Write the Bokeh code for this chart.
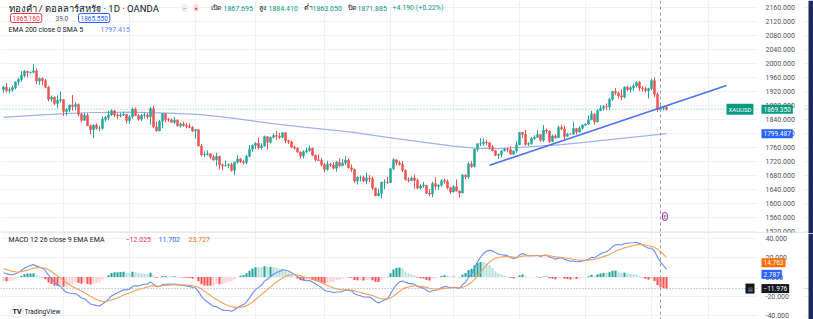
import numpy as np
from bokeh.plotting import figure
from bokeh.layouts import column
from bokeh.models import (Range1d, FixedTicker, NumeralTickFormatter, Label, Span,
                          ColumnDataSource, BoxAnnotation)
from bokeh.embed import file_html
from bokeh.resources import INLINE

# ---------------- data (daily XAUUSD, OANDA) ----------------
first_open = 1925.0
closes = [
    # Apr
    1932, 1923, 1925, 1931, 1947, 1954, 1966, 1978, 1974, 1975, 1979, 1950, 1957, 1951, 1932, 1898, 1904, 1886, 1895, 1897,
    # May
    1863, 1868, 1881, 1877, 1883, 1855, 1838, 1852, 1822, 1811, 1824, 1815, 1815, 1841, 1846, 1853, 1865, 1853, 1850, 1853, 1855, 1837,
    # Jun
    1848, 1870, 1851, 1841, 1852, 1853, 1848, 1871, 1819, 1808, 1835, 1857, 1840, 1839, 1832, 1838, 1822, 1827, 1823, 1820, 1817, 1807,
    # Jul
    1811, 1764, 1739, 1740, 1742, 1733, 1725, 1735, 1711, 1708, 1709, 1711, 1695, 1718, 1727, 1719, 1717, 1735, 1755, 1766,
    # Aug
    1772, 1760, 1765, 1791, 1775, 1789, 1794, 1792, 1789, 1802, 1779, 1776, 1761, 1758, 1747, 1736, 1748, 1751, 1758, 1738, 1725, 1723, 1711,
    # Sep
    1697, 1712, 1710, 1701, 1718, 1708, 1716, 1724, 1702, 1697, 1664, 1675, 1675, 1664, 1673, 1671, 1644, 1622, 1629, 1660, 1661, 1660,
    # Oct
    1699, 1725, 1716, 1712, 1695, 1668, 1666, 1673, 1666, 1644, 1650, 1652, 1629, 1627, 1657, 1649, 1652, 1665, 1663, 1645, 1633,
    # Nov
    1648, 1636, 1630, 1681, 1676, 1713, 1706, 1755, 1771, 1771, 1776, 1774, 1761, 1751, 1738, 1740, 1750, 1755, 1754, 1741, 1750, 1768,
    # Dec
    1803, 1797, 1769, 1771, 1786, 1789, 1797, 1781, 1810, 1807, 1777, 1793, 1788, 1817, 1813, 1792, 1798, 1798, 1814, 1804, 1815, 1824,
    # Jan
    1827, 1839, 1855, 1833, 1865, 1872, 1877, 1876, 1898, 1920, 1916, 1908, 1904, 1932, 1926, 1931, 1936, 1946, 1930, 1928, 1923, 1928,
    # Feb
    1951, 1912, 1867.695, 1871.885, 1874, 1869.35,
]
highs = [
    1936, 1944, 1932, 1937, 1949, 1958, 1978, 1981, 1979, 1977, 1998, 1986, 1960, 1960, 1956, 1936, 1909, 1906, 1909, 1920,
    1898, 1873, 1883, 1910, 1890, 1886, 1859, 1859, 1858, 1826, 1826, 1829, 1822, 1849, 1850, 1865, 1869, 1867, 1858, 1859, 1862, 1856,
    1852, 1874, 1874, 1856, 1855, 1860, 1858, 1876, 1879, 1833, 1838, 1858, 1857, 1845, 1843, 1847, 1840, 1831, 1834, 1830, 1829, 1821,
    1813, 1812, 1770, 1749, 1752, 1743, 1739, 1745, 1736, 1714, 1723, 1715, 1717, 1719, 1739, 1730, 1724, 1739, 1767, 1768,
    1775, 1788, 1772, 1794, 1792, 1791, 1800, 1807, 1802, 1803, 1804, 1782, 1780, 1766, 1761, 1749, 1752, 1760, 1765, 1760, 1740, 1741, 1730,
    1716, 1722, 1716, 1718, 1722, 1729, 1727, 1735, 1729, 1712, 1700, 1678, 1680, 1680, 1688, 1681, 1677, 1645, 1642, 1663, 1669, 1676,
    1702, 1729, 1726, 1722, 1721, 1697, 1675, 1677, 1682, 1672, 1655, 1662, 1652, 1641, 1662, 1675, 1655, 1669, 1671, 1669, 1648,
    1652, 1669, 1637, 1684, 1683, 1719, 1722, 1756, 1771, 1786, 1786, 1782, 1774, 1767, 1753, 1743, 1753, 1759, 1760, 1764, 1752, 1778,
    1804, 1804, 1810, 1775, 1790, 1795, 1810, 1797, 1824, 1814, 1808, 1797, 1798, 1823, 1825, 1823, 1802, 1800, 1833, 1815, 1821, 1826,
    1829, 1851, 1865, 1858, 1870, 1881, 1881, 1886, 1902, 1922, 1930, 1920, 1926, 1935, 1937, 1935, 1942, 1949, 1950, 1936, 1934, 1931,
    1957, 1960, 1918, 1884.41, 1879, 1877,
]
lows = [
    1916, 1917, 1915, 1919, 1926, 1937, 1948, 1960, 1961, 1971, 1972, 1941, 1939, 1938, 1929, 1892, 1891, 1881, 1872, 1888,
    1850, 1851, 1861, 1865, 1866, 1850, 1832, 1836, 1821, 1798, 1787, 1811, 1807, 1810, 1834, 1838, 1850, 1846, 1842, 1846, 1850, 1829,
    1828, 1842, 1850, 1837, 1836, 1843, 1841, 1825, 1816, 1805, 1806, 1815, 1832, 1833, 1831, 1827, 1820, 1817, 1819, 1815, 1815, 1804,
    1785, 1764, 1735, 1733, 1737, 1727, 1722, 1707, 1697, 1695, 1706, 1701, 1691, 1681, 1714, 1716, 1711, 1712, 1732, 1748,
    1755, 1754, 1754, 1762, 1754, 1771, 1786, 1782, 1784, 1787, 1772, 1770, 1758, 1754, 1745, 1728, 1729, 1744, 1748, 1735, 1720, 1722, 1707,
    1689, 1694, 1705, 1697, 1691, 1705, 1707, 1710, 1700, 1690, 1659, 1654, 1663, 1662, 1655, 1661, 1638, 1621, 1621, 1615, 1641, 1656,
    1659, 1696, 1708, 1708, 1690, 1666, 1660, 1664, 1642, 1641, 1640, 1645, 1627, 1621, 1618, 1639, 1639, 1648, 1657, 1640, 1627,
    1632, 1634, 1617, 1629, 1670, 1670, 1702, 1703, 1748, 1764, 1765, 1767, 1754, 1749, 1735, 1727, 1732, 1749, 1746, 1740, 1739, 1745,
    1767, 1787, 1765, 1765, 1768, 1782, 1788, 1776, 1776, 1800, 1773, 1776, 1785, 1787, 1810, 1784, 1791, 1796, 1797, 1797, 1803, 1811,
    1821, 1824, 1838, 1825, 1832, 1865, 1866, 1867, 1866, 1894, 1910, 1900, 1896, 1900, 1921, 1917, 1921, 1932, 1922, 1920, 1917, 1900,
    1924, 1904, 1861, 1863.05, 1866, 1865,
]

ema_x = [0, 10, 20, 30, 42, 55, 66, 77, 89, 100, 116, 128, 139, 150, 157, 165, 175, 186, 196, 206, 214, 221]
ema_vals = [1846, 1852, 1857, 1860, 1861, 1858, 1854, 1843, 1829, 1818, 1804, 1789, 1776, 1764, 1758, 1757,
            1762, 1768, 1777, 1786, 1793, 1799.487]

# hand-drawn trend line (bar index, price)
trend_x = [162, 241]
trend_y = [1709, 1937]

# MACD seeds at first bar
ema12_seed = 1934.0
ema26_seed = 1929.0
signal_seed = 10.0

month_start_bars = [20, 42, 64, 84, 107, 129, 150, 172, 194, 216, 235]
price_ticks = [1520, 1560, 1600, 1640, 1680, 1720, 1760, 1800, 1840, 1880, 1920, 1960, 2000, 2040, 2080, 2120, 2160]
macd_ticks = [-40, -20, 0, 20, 40]
crosshair_bar = 219

title_text = "ทองคำ / ดอลลาร์สหรัฐ · 1D · OANDA"
header_ohlc = [("เปิด", "1867.695"), ("สูง", "1884.410"), ("ต่ำ", "1863.050"), ("ปิด", "1871.885")]
header_change = "+4.190 (+0.22%)"
sell_price, spread_text, buy_price = "1865.160", "39.0", "1865.550"
ema_legend, ema_legend_value = "EMA 200 close 0 SMA 5", "1797.415"
macd_legend = "MACD 12 26 close 9 EMA EMA"
macd_legend_values = ["−12.025", "11.702", "23.727"]
price_label, ema_label = "1869.350", "1799.487"
macd_axis_labels = [(14.763, "14.763"), (2.787, "2.787"), (-11.976, "−11.976")]

# ---------------- derived ----------------
opens = [first_open] + closes[:-1]
n = len(closes)
xs = list(range(n))
UP, DOWN = "#26a69a", "#ef5350"
colors = [UP if c >= o else DOWN for o, c in zip(opens, closes)]
src = ColumnDataSource(dict(
    x=xs, h=highs, l=lows,
    top=[max(o, c) for o, c in zip(opens, closes)],
    bot=[min(o, c) for o, c in zip(opens, closes)],
    color=colors))


def ema(vals, length, seed):
    k = 2.0 / (length + 1)
    e = seed
    out = []
    for v in vals:
        e = e + k * (v - e)
        out.append(e)
    return out


fast = ema(closes, 12, ema12_seed)
slow = ema(closes, 26, ema26_seed)
macd = [f - s for f, s in zip(fast, slow)]
signal = ema(macd, 9, signal_seed)
hist = [m - s for m, s in zip(macd, signal)]
hcol = []
prev = (ema12_seed - ema26_seed) - signal_seed
for h in hist:
    if h >= 0:
        hcol.append("#26a69a" if h >= prev else "#b2dfdb")
    else:
        hcol.append("#ffcdd2" if h > prev else "#ff5252")
    prev = h
msrc = ColumnDataSource(dict(x=xs, macd=macd, signal=signal, hist=hist, color=hcol))

# ---------------- layout ----------------
FULL_W = 813
AXIS_PX = 757
MAIN_H = 233
MACD_H = 86
PXB = 3.0
X0 = -1.0
P_TOP, P_SCALE = 2180.0, 0.35
M_TOP, M_SCALE, M_OFF = 45.1, 0.965, MAIN_H


def xd(px):
    return X0 + px / PXB


def yd(py):
    return P_TOP - py / P_SCALE


def ym(py):
    return M_TOP - (py - M_OFF) / M_SCALE


FONT = "Roboto"
xr = Range1d(X0, X0 + FULL_W / PXB)

common = dict(frame_width=FULL_W, x_range=xr, x_axis_location=None, y_axis_location="right",
              output_backend="svg", toolbar_location=None, min_border_left=0,
              min_border_right=0, min_border_top=0, min_border_bottom=0,
              background_fill_color="white", border_fill_color="white", outline_line_color=None)

main = figure(frame_height=MAIN_H, y_range=Range1d(yd(MAIN_H), P_TOP), **common)
macdf = figure(frame_height=MACD_H, y_range=Range1d(ym(MAIN_H + MACD_H), M_TOP), **common)


def style_axis(fig, ticks):
    ax = fig.yaxis[0]
    ax.fixed_location = xd(AXIS_PX)
    ax.ticker = FixedTicker(ticks=ticks)
    ax.formatter = NumeralTickFormatter(format="0.000")
    ax.major_label_text_font_size = "7px"
    ax.major_label_text_font = FONT
    ax.major_label_text_color = "#50535e"
    ax.axis_line_color = None
    ax.major_tick_line_color = None
    ax.minor_tick_line_color = None
    ax.major_tick_out = 0
    ax.major_tick_in = 0
    ax.major_label_standoff = 8
    fig.ygrid.grid_line_color = "#eef1f6"
    fig.xgrid.ticker = FixedTicker(ticks=month_start_bars)
    fig.xgrid.grid_line_color = "#eef1f6"


style_axis(main, price_ticks)
style_axis(macdf, macd_ticks)


def cover_axis_area(fig):
    # white price-scale strip on the right
    fig.add_layout(BoxAnnotation(left=xd(AXIS_PX), right=xd(803), fill_color="white",
                                 fill_alpha=1.0, line_color=None, level="glyph"))


def window_edge(fig):
    # dark window edge at the far right of the screenshot
    fig.add_layout(BoxAnnotation(left=xd(808), right=xd(FULL_W), fill_color="#1c2b5a",
                                 fill_alpha=1.0, line_color=None, level="overlay"))


def lab(fig, x, y, text, color="#131722", size="7px", bg=None, border=None, pad=None,
        radius=None, bold=False, align="left"):
    kw = dict(x=x, y=y, text=text, text_color=color, text_font_size=size, text_font=FONT,
              text_baseline="middle", text_align=align)
    if bg:
        kw["background_fill_color"] = bg
    if border:
        kw["border_line_color"] = border
    if pad is not None:
        kw["padding"] = pad
    if radius is not None:
        kw["border_radius"] = radius
    if bold:
        kw["text_font_style"] = "bold"
    fig.add_layout(Label(**kw))


# ---- main pane ----
main.add_layout(Span(location=closes[-1], dimension="width", line_color="#089981",
                     line_dash="1 2", line_alpha=0.6, line_width=1, level="underlay"))
main.line(ema_x, ema_vals, line_color="#9fb2f0", line_width=1.2)
main.segment(x0="x", y0="l", x1="x", y1="h", color="color", line_width=1, source=src)
main.vbar(x="x", width=0.66, top="top", bottom="bot", fill_color="color", line_color="color",
          line_width=0.5, source=src)
main.line(trend_x, trend_y, line_color="#4f74ea", line_width=1.6)
cover_axis_area(main)
main.add_layout(Span(location=crosshair_bar, dimension="height", line_color="#9598a1",
                     line_dash="3 3", line_width=1))
main.add_layout(Span(location=yd(MAIN_H - 0.5), dimension="width", line_color="#d1d4dc", line_width=1))

lab(main, xd(8), yd(7.5), title_text, size="9.5px")
lab(main, xd(181), yd(7.5), "—", color="#787b86", bg="#eceff4", size="5px", pad=1, radius=3)
lab(main, xd(193), yd(7.5), "●", color="#f23645", bg="#fbd9dc", size="5px", pad=1, radius=3)
key_px = [210, 258, 303, 347]
val_px = [223, 268, 312, 357]
for (k, v), kp, vp in zip(header_ohlc, key_px, val_px):
    lab(main, xd(kp), yd(7.5), k, color="#131722")
    lab(main, xd(vp), yd(7.5), v, color="#089981")
lab(main, xd(392), yd(7.5), header_change, color="#089981")

lab(main, xd(10), yd(17.5), sell_price, color="#f23645", bg="white", border="#f23645", pad=2,
    radius=2, size="6.5px")
lab(main, xd(55), yd(17.5), spread_text, color="#50535e", size="6.5px")
lab(main, xd(78), yd(17.5), buy_price, color="#2962ff", bg="white", border="#2962ff", pad=2,
    radius=2, size="6.5px")
lab(main, xd(8), yd(29), ema_legend, color="#131722")
lab(main, xd(100), yd(29), ema_legend_value, color="#5b7ef0")

lab(main, xd(726), closes[-1], "XAUUSD", color="white", bg="#089981", pad=2, size="6px")
lab(main, xd(761), closes[-1], price_label, color="white", bg="#089981", pad=2, size="6.5px")
lab(main, xd(761), ema_vals[-1], ema_label, color="white", bg="#2962ff", pad=2, size="6.5px")
lab(main, xd(662), yd(216), "E", color="#9c27b0", bg="white", border="#9c27b0", pad=1,
    radius=4, size="5px")
window_edge(main)

# ---- MACD pane ----
macdf.add_layout(Span(location=macd_axis_labels[2][0], dimension="width", line_color="#9598a1",
                      line_dash="1 2", line_width=1, level="underlay"))
macdf.vbar(x="x", width=0.7, top="hist", bottom=0, fill_color="color", line_color=None, source=msrc)
macdf.line("x", "macd", line_color="#6a8ef2", line_width=1.1, source=msrc)
macdf.line("x", "signal", line_color="#f5a05a", line_width=1.1, source=msrc)
cover_axis_area(macdf)
macdf.add_layout(Span(location=crosshair_bar, dimension="height", line_color="#9598a1",
                      line_dash="3 3", line_width=1))

lab(macdf, xd(8), ym(239), macd_legend, color="#131722")
for txt, px, col in zip(macd_legend_values, [125, 158, 188], ["#f23645", "#2962ff", "#ff6d00"]):
    lab(macdf, xd(px), ym(239), txt, color=col)

for (val, txt), bgc in zip(macd_axis_labels, ["#ff6d00", "#2962ff", "#131722"]):
    lab(macdf, xd(761), val, txt, color="white", bg=bgc, pad=2, size="6.5px")
lab(macdf, xd(745), macd_axis_labels[2][0], "▤", color="#b2b5be", bg="#131722", pad=2, size="5px")

lab(macdf, xd(10), ym(311), "TV", color="#131722", bg="white", border="#e0e3eb", pad=2,
    radius=6, bold=True, size="7px")
lab(macdf, xd(24), ym(311), "TradingView", color="#131722", size="6.5px")
window_edge(macdf)

layout = column(main, macdf, width=FULL_W, height=MAIN_H + MACD_H,
                styles={"overflow": "hidden"})

open("out.html", "w").write(file_html(layout, INLINE))
